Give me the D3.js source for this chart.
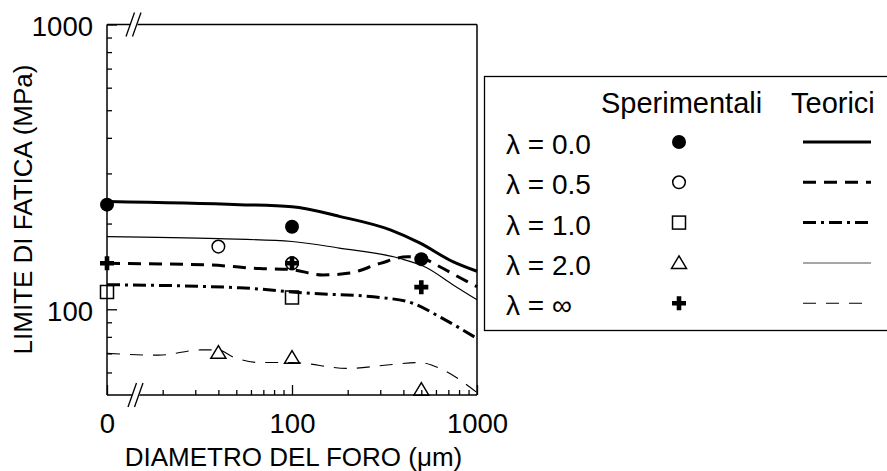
<!DOCTYPE html>
<html>
<head>
<meta charset="utf-8">
<script src="https://cdn.jsdelivr.net/npm/d3@7"></script>
<style>
  html, body { margin: 0; padding: 0; background: #fff; }
  svg { display: block; font-family: "Liberation Sans", Arial, Helvetica, sans-serif; }
</style>
</head>
<body>
<svg id="chart" width="887" height="471"></svg>
<script>
// ---------- data ----------
const xMajorTicks = [0, 100, 1000];
const xMajorLabels = ["0", "100", "1000"];
const xMinorTicks = [20, 30, 40, 50, 60, 70, 80, 90, 200, 300, 400, 500, 600, 700, 800, 900];
const yMajorTicks = [100, 1000];
const yMajorLabels = ["100", "1000"];
const yMinorTicks = [60, 70, 80, 90, 200, 300, 400, 500, 600, 700, 800, 900];

const seriesNames = ["\u03bb = 0.0", "\u03bb = 0.5", "\u03bb = 1.0", "\u03bb = 2.0", "\u03bb = \u221e"];

// experimental points (diameter um, fatigue limit MPa); 0 = unnotched (axis origin)
const expX_l00 = [0, 100, 500];
const expY_l00 = [233, 195, 150];
const expX_l05 = [40, 100];
const expY_l05 = [166, 145];
const expX_l10 = [0, 100];
const expY_l10 = [115, 110];
const expX_l20 = [40, 100, 500];
const expY_l20 = [70.4, 67.6, 52.2];
const expX_linf = [0, 100, 500];
const expY_linf = [145, 145, 119.6];

// theoretical curves
const thX_l00 = [0, 52, 100, 180, 340, 490, 740, 1000];
const thY_l00 = [239, 233, 229, 212, 190, 171, 147, 136];
const thX_l05 = [0, 36, 67, 97, 147, 205, 300, 420, 490, 630, 810, 1000];
const thY_l05 = [145, 143, 139, 138, 132, 134, 145, 153, 152, 141, 129, 120];
const thX_l10 = [0, 52, 120, 300, 450, 630, 1000];
const thY_l10 = [122, 119, 114, 110, 105, 94, 79];
const thX_l20 = [0, 40, 100, 180, 380, 535, 740, 1000];
const thY_l20 = [180, 177, 173, 164, 151, 140, 122, 108];
const thX_linf = [0, 19, 32, 40, 48, 67, 100, 200, 350, 490, 630, 1000];
const thY_linf = [70, 69, 72, 72, 68, 65, 65, 62, 64, 65, 62, 51];

// ---------- layout ----------
const svg = d3.select("#chart");
const X0 = 107, X1 = 477, Y0 = 395, Y1 = 24.5;
const x = d3.scaleLog().domain([10, 1000]).range([X0, X1]);
const y = d3.scaleLog().domain([50, 1000]).range([Y0, Y1]);
const xp = v => x(v === 0 ? 10 : v);   // "0" sits at the broken-axis origin

const zip = (a, b) => a.map((v, i) => [v, b[i]]);

// ---------- axes ----------
const gx = svg.append("g").attr("transform", `translate(0,${Y0})`);
gx.call(d3.axisBottom(x).tickValues(xMinorTicks).tickSizeInner(-5).tickSizeOuter(0).tickFormat(""));
gx.select(".domain").remove();
const gx2 = svg.append("g").attr("transform", `translate(0,${Y0})`);
gx2.call(d3.axisBottom(x).tickValues(xMajorTicks.map(v => v === 0 ? 10 : v))
  .tickSizeInner(-10).tickSizeOuter(0).tickPadding(18)
  .tickFormat((d, i) => xMajorLabels[i]));
gx2.select(".domain").remove();

const gy = svg.append("g").attr("transform", `translate(${X0},0)`);
gy.call(d3.axisLeft(y).tickValues(yMinorTicks).tickSizeInner(-5).tickSizeOuter(0).tickFormat(""));
gy.select(".domain").remove();
const gy2 = svg.append("g").attr("transform", `translate(${X0},0)`);
gy2.call(d3.axisLeft(y).tickValues(yMajorTicks).tickSizeInner(-10).tickSizeOuter(0).tickPadding(14)
  .tickFormat((d, i) => yMajorLabels[i]));
gy2.select(".domain").remove();

svg.selectAll(".tick line").attr("stroke", "#000").attr("stroke-width", 1.3);
svg.selectAll(".tick text").attr("font-size", 27.5).attr("fill", "#000")
  .attr("font-family", "'Liberation Sans', Arial, sans-serif");
gy2.selectAll(".tick text").attr("dy", "0.4em");

// frame
const frame = svg.append("g").attr("stroke", "#000").attr("stroke-width", 1.5).attr("fill", "none");
frame.append("line").attr("x1", X0).attr("x2", X1).attr("y1", Y0).attr("y2", Y0);
frame.append("line").attr("x1", X0).attr("x2", X0).attr("y1", Y0).attr("y2", Y1);
frame.append("line").attr("x1", X0).attr("x2", X1).attr("y1", Y1).attr("y2", Y1);
frame.append("line").attr("x1", X1).attr("x2", X1).attr("y1", Y1).attr("y2", Y0);

// axis breaks
function brk(cx, cy) {
  const g = svg.append("g");
  g.append("polygon")
    .attr("points", `${cx - 8},${cy + 11} ${cx - 1},${cy + 11} ${cx + 8},${cy - 11} ${cx + 1},${cy - 11}`)
    .attr("fill", "#fff");
  g.append("line").attr("x1", cx - 8).attr("y1", cy + 12).attr("x2", cx + 0.5).attr("y2", cy - 12)
    .attr("stroke", "#000").attr("stroke-width", 1.3);
  g.append("line").attr("x1", cx - 1.5).attr("y1", cy + 12).attr("x2", cx + 7).attr("y2", cy - 12)
    .attr("stroke", "#000").attr("stroke-width", 1.3);
}
brk(134, Y1);
brk(136, Y0);

// axis titles
svg.append("text").attr("x", 293.5).attr("y", 466).attr("text-anchor", "middle")
  .attr("font-size", 26).text("DIAMETRO DEL FORO (\u03bcm)");
svg.append("text").attr("transform", "translate(32,209.5) rotate(-90)").attr("text-anchor", "middle")
  .attr("font-size", 26).text("LIMITE DI FATICA (MPa)");

// ---------- styles ----------
const lineStyles = [
  { w: 3, dash: null, color: "#000" },
  { w: 3, dash: "13,8", color: "#000" },
  { w: 3, dash: "13,5,3,5", color: "#000" },
  { w: 1.1, dash: null, color: "#000" },
  { w: 1.1, dash: "13,10", color: "#000" }
];
const legendLineColors = ["#000", "#000", "#000", "#888", "#000"];

function drawMarker(g, kind, cx, cy) {
  if (kind === 0) {
    g.append("circle").attr("cx", cx).attr("cy", cy).attr("r", 7).attr("fill", "#000");
  } else if (kind === 1) {
    g.append("circle").attr("cx", cx).attr("cy", cy).attr("r", 6.3).attr("fill", "none")
      .attr("stroke", "#000").attr("stroke-width", 1.5);
  } else if (kind === 2) {
    g.append("rect").attr("x", cx - 6.5).attr("y", cy - 6.5).attr("width", 13).attr("height", 13)
      .attr("fill", "none").attr("stroke", "#000").attr("stroke-width", 1.5);
  } else if (kind === 3) {
    g.append("path").attr("transform", `translate(${cx},${cy})`)
      .attr("d", "M0,-7 L7.5,5.5 L-7.5,5.5 Z")
      .attr("fill", "none").attr("stroke", "#000").attr("stroke-width", 1.5);
  } else {
    g.append("path").attr("transform", `translate(${cx},${cy})`)
      .attr("d", "M-7,-2.3 H-2.3 V-7 H2.3 V-2.3 H7 V2.3 H2.3 V7 H-2.3 V2.3 H-7 Z")
      .attr("fill", "#000");
  }
}

// ---------- theoretical curves ----------
const theory = [zip(thX_l00, thY_l00), zip(thX_l05, thY_l05), zip(thX_l10, thY_l10),
                zip(thX_l20, thY_l20), zip(thX_linf, thY_linf)];
const line = d3.line().x(d => xp(d[0])).y(d => y(d[1])).curve(d3.curveMonotoneX);
const gl = svg.append("g").attr("fill", "none");
theory.forEach((s, i) => {
  const st = lineStyles[i];
  gl.append("path").attr("d", line(s)).attr("stroke", st.color).attr("stroke-width", st.w)
    .attr("stroke-dasharray", st.dash);
});

// ---------- experimental points ----------
const exp = [zip(expX_l00, expY_l00), zip(expX_l05, expY_l05), zip(expX_l10, expY_l10),
             zip(expX_l20, expY_l20), zip(expX_linf, expY_linf)];
const gp = svg.append("g");
exp.forEach((s, i) => s.forEach(d => drawMarker(gp, i, xp(d[0]), y(d[1]))));

// ---------- legend ----------
const lg = svg.append("g");
lg.append("rect").attr("x", 484.5).attr("y", 76.5).attr("width", 420).attr("height", 254)
  .attr("fill", "#fff").attr("stroke", "#000").attr("stroke-width", 1.3);
lg.append("text").attr("x", 601).attr("y", 112.5).attr("font-size", 29).text("Sperimentali");
lg.append("text").attr("x", 791).attr("y", 112.5).attr("font-size", 29).text("Teorici");
const rowY = [142, 182.3, 222.6, 262.9, 303.2];
seriesNames.forEach((name, i) => {
  const cy = rowY[i];
  lg.append("text").attr("x", 506).attr("y", cy + 12).attr("font-size", 28).text(name);
  drawMarker(lg, i, 679, cy);
  const st = lineStyles[i];
  lg.append("line").attr("x1", 803).attr("x2", 871).attr("y1", cy).attr("y2", cy)
    .attr("stroke", legendLineColors[i]).attr("stroke-width", i === 3 ? 1.5 : st.w)
    .attr("stroke-dasharray", st.dash);
});
</script>
</body>
</html>
